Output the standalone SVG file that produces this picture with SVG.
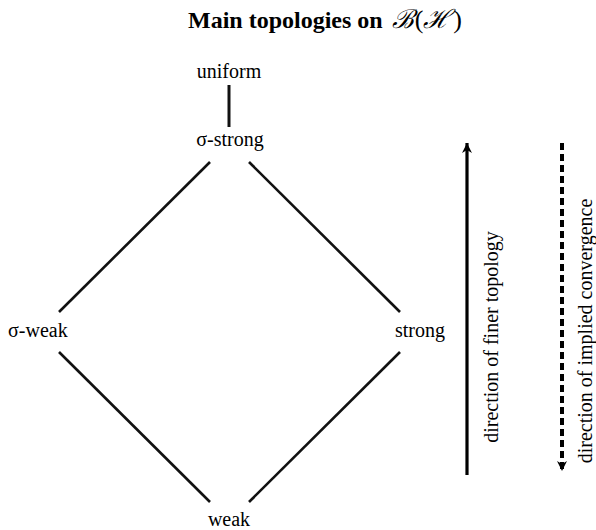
<svg xmlns="http://www.w3.org/2000/svg" width="596" height="530" viewBox="0 0 596 530" font-family="'Liberation Serif', 'Times New Roman', serif">
<style>
.lbl{font-size:20px;text-anchor:middle}
.title{font-size:24px;font-weight:bold}
.math{font-weight:normal;font-size:26px}
.scr{font-style:italic}
.edge{stroke:#111;stroke-width:2.6;fill:none;stroke-linecap:butt}
</style>
<defs>
<marker id="up" viewBox="0 0 10 10" refX="10" refY="5" markerWidth="10" markerHeight="10" markerUnits="userSpaceOnUse" orient="auto">
<path d="M0,0 L10,5 L0,10 L3,5 Z" fill="#000"/>
</marker>
</defs>
<text class="title" x="188" y="28" font-family="'Liberation Serif', 'Times New Roman', serif">Main topologies on <tspan class="math" dx="3" font-family="'DejaVu Serif', 'Liberation Serif', serif"><tspan class="scr">ℬ</tspan><tspan font-family="'Liberation Serif', serif" dx="1">(</tspan><tspan class="scr">ℋ</tspan><tspan font-family="'Liberation Serif', serif" dx="2">)</tspan></tspan></text>
<g id="connectors">
<line class="edge" x1="229" y1="85" x2="229" y2="127" style="stroke-width:3"/>
<line class="edge" x1="210" y1="162" x2="59" y2="312"/>
<line class="edge" x1="249" y1="162" x2="400" y2="312"/>
<line class="edge" x1="59" y1="352" x2="210" y2="502"/>
<line class="edge" x1="400" y1="352" x2="249" y2="502"/>
</g>
<g id="uniform"><text class="lbl" x="229" y="78" font-family="'Liberation Serif', 'Times New Roman', serif">uniform</text></g>
<g id="sigma-strong"><text class="lbl" x="230" y="146" font-family="'Liberation Serif', 'Times New Roman', serif">σ-strong</text></g>
<g id="sigma-weak"><text x="8" y="337" font-size="20" font-family="'Liberation Serif', 'Times New Roman', serif">σ-weak</text></g>
<g id="strong"><text x="395" y="337" font-size="20" font-family="'Liberation Serif', 'Times New Roman', serif">strong</text></g>
<g id="weak"><text class="lbl" x="229" y="526" font-family="'Liberation Serif', 'Times New Roman', serif">weak</text></g>
<g id="arrows">
<line x1="467" y1="475" x2="467" y2="143" stroke="#000" stroke-width="3.2" marker-end="url(#up)"/>
<line x1="562" y1="143" x2="562" y2="471" stroke="#000" stroke-width="4" stroke-dasharray="7,4" marker-end="url(#up)"/>
</g>
<g id="legend">
<text class="lbl" transform="translate(498,337) rotate(-90)" font-family="'Liberation Serif', 'Times New Roman', serif">direction of finer topology</text>
<text class="lbl" transform="translate(592,331) rotate(-90)" font-family="'Liberation Serif', 'Times New Roman', serif">direction of implied convergence</text>
</g>
</svg>
